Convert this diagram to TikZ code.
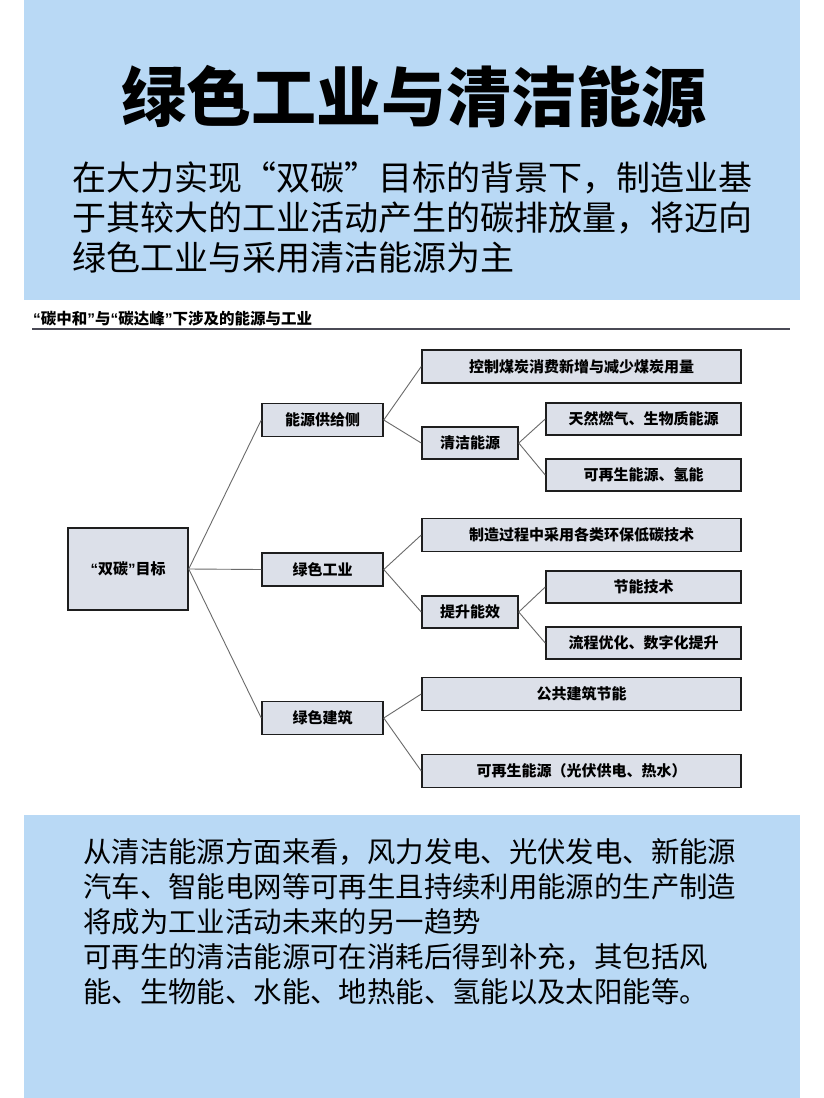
\documentclass[tikz,border=0pt]{standalone}
\usepackage{fontspec}
\setmainfont{Noto Sans CJK SC}
\newfontfamily\latinfont{Liberation Sans}
\usepackage{tikz}
\usetikzlibrary{positioning}
\definecolor{skyblue}{HTML}{B9D9F5}
\definecolor{boxfill}{HTML}{DCE0E9}
\definecolor{boxline}{HTML}{1E1E1E}
\definecolor{linkgray}{HTML}{6A6A6A}
\definecolor{rulegray}{HTML}{4A4A55}
\newcommand{\narrowq}[1]{{\latinfont\bfseries “}#1{\latinfont\bfseries ”}}

\begin{document}
\begin{tikzpicture}[x=1pt,y=-1pt,
 panel/.style={fill=skyblue,draw=none},
 item/.style={draw=boxline,fill=boxfill,line width=1.5pt,inner sep=0pt,align=center,
   font=\fontsize{15}{18}\selectfont\bfseries},
 root/.style={item,minimum width=120pt,minimum height=82pt},
 branch/.style={item,minimum width=121pt,minimum height=33pt},
 small/.style={item,minimum width=96pt,minimum height=32pt},
 wide/.style={item,minimum width=319pt,minimum height=33pt},
 leaf/.style={item,minimum width=195pt,minimum height=32pt},
 link/.style={draw=linkgray,line width=0.9pt}
]
\useasboundingbox (0,0) rectangle (824,1098);
\fill[white] (0,0) rectangle (824,1098);
\fill[panel] (24,0) rectangle (800,300);
\fill[panel] (24,815) rectangle (800,1098);

% header
\node[font=\fontsize{65}{70}\selectfont\bfseries] (title) at (414,97) {绿色工业与清洁能源};
\node[anchor=west,inner sep=0pt,align=left,font=\fontsize{34}{40}\selectfont] (intro) at (72,218)
  {在大力实现“双碳”目标的背景下，制造业基\\于其较大的工业活动产生的碳排放量，将迈向\\绿色工业与采用清洁能源为主};

% caption
\node[anchor=south west,inner sep=1pt,font=\fontsize{15.5}{18}\selectfont\bfseries] (caption) at (32,327)
  {\narrowq{碳中和}与\narrowq{碳达峰}下涉及的能源与工业};
\coordinate (ruleL) at (32,329);
\coordinate (ruleR) at (790,329);
\draw[rulegray,line width=1.2pt] (ruleL) -- (ruleR);

% tree
\node[root] (goal) at (128,569) {\narrowq{双碳}目标};
\node[branch] (supply) at (322.5,420) {能源供给侧};
\node[branch] (industry) at (322.5,569.5) {绿色工业};
\node[branch] (building) at (322.5,718) {绿色建筑};

\node[wide] (coal) at (581.5,366.5) {控制煤炭消费新增与减少煤炭用量};
\node[small] (clean) at (470,443) {清洁能源};
\node[leaf] (gas) at (643.5,419) {天然燃气、生物质能源};
\node[leaf] (hydro) at (643.5,475) {可再生能源、氢能};

\node[wide] (process) at (581.5,535) {制造过程中采用各类环保低碳技术};
\node[small] (effic) at (470,612) {提升能效};
\node[leaf] (saving) at (643.5,587) {节能技术};
\node[leaf] (digital) at (643.5,643) {流程优化、数字化提升};

\node[wide] (public) at (581.5,694) {公共建筑节能};
\node[wide] (solar) at (581.5,771) {可再生能源（光伏供电、热水）};

\foreach \b in {supply,industry,building}
  \draw[link] (goal.east) -- (\b.west);
\draw[link] (supply.east) -- (coal.west);
\draw[link] (supply.east) -- (clean.west);
\draw[link] (clean.east) -- (gas.west);
\draw[link] (clean.east) -- (hydro.west);
\draw[link] (industry.east) -- (process.west);
\draw[link] (industry.east) -- (effic.west);
\draw[link] (effic.east) -- (saving.west);
\draw[link] (effic.east) -- (digital.west);
\draw[link] (building.east) -- (public.west);
\draw[link] (building.east) -- (solar.west);

% footer
\node[anchor=west,inner sep=0pt,align=left,font=\fontsize{28.4}{35}\selectfont] (outro) at (83,922)
  {从清洁能源方面来看，风力发电、光伏发电、新能源\\汽车、智能电网等可再生且持续利用能源的生产制造\\将成为工业活动未来的另一趋势\\可再生的清洁能源可在消耗后得到补充，其包括风\\能、生物能、水能、地热能、氢能以及太阳能等。};
\end{tikzpicture}
\end{document}
